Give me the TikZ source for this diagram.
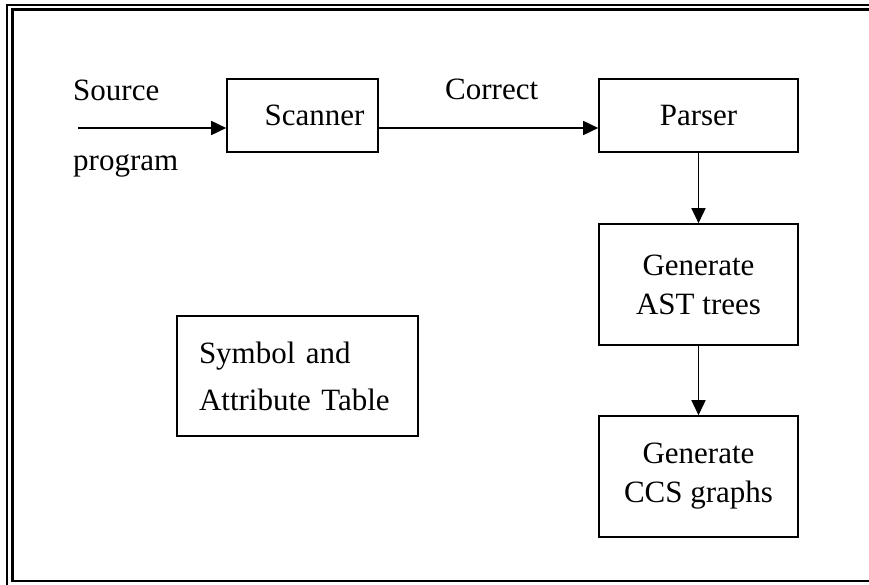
\documentclass[tikz,border=0pt]{standalone}
\usepackage{fontspec}
\setmainfont{Liberation Serif}
\usetikzlibrary{arrows.meta}
\begin{document}
\begin{tikzpicture}[x=1pt,y=-1pt,
  box/.style={draw, line width=1.6pt, inner sep=0pt, font=\fontsize{31}{39}\selectfont},
  arr/.style={line width=1.6pt, -{Triangle[length=15pt,width=14pt]}},
  lbl/.style={inner sep=0pt, anchor=base west, font=\fontsize{31}{39}\selectfont}]
\useasboundingbox (0,0) rectangle (869,585);
% frame
\draw[line width=2pt] (7,585) -- (7,5) -- (869,5);
\draw[line width=3pt] (12.5,581) -- (12.5,10) -- (869,10);
\draw[line width=2.5pt] (11,581) -- (869,581);
% boxes
\node[box, minimum width=151pt, minimum height=73pt] (scanner) at (302.5,115.5) {\hspace*{24pt}Scanner};
\node[box, minimum width=199pt, minimum height=73pt] (parser) at (698.5,115.5) {Parser};
\node[box, minimum width=199pt, minimum height=121pt, align=center] (ast) at (698.5,284.5) {Generate\\AST trees};
\node[box, minimum width=199pt, minimum height=121pt, align=center] (ccs) at (698.5,476.5) {Generate\\CCS graphs};
\node[box, minimum width=241pt, minimum height=120pt, align=left, text width=197pt, inner xsep=22pt, font=\fontsize{31}{47}\selectfont] (sym) at (297.5,376) {Symbol and\\Attribute Table};
% labels
\node[lbl] (source) at (73,101) {Source};
\node[lbl] (program) at (73,171) {program};
\node[lbl] (correct) at (445,100) {Correct};
% connectors
\coordinate (srcstart) at (78,128);
\draw[arr] (srcstart) -- (srcstart -| scanner.west);
\draw[arr] ([yshift=-12.5pt]scanner.east) -- ([yshift=-12.5pt]scanner.east -| parser.west);
\draw[arr] (parser) -- (ast);
\draw[arr] (ast) -- (ccs);
\end{tikzpicture}
\end{document}
